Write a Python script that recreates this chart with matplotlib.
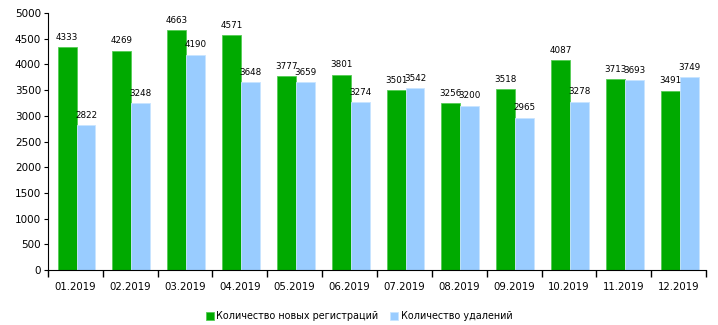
import matplotlib.pyplot as plt
import numpy as np

months = ['01.2019', '02.2019', '03.2019', '04.2019', '05.2019', '06.2019',
          '07.2019', '08.2019', '09.2019', '10.2019', '11.2019', '12.2019']
new_regs = [4333, 4269, 4663, 4571, 3777, 3801, 3501, 3256, 3518, 4087, 3713, 3491]
deletions = [2822, 3248, 4190, 3648, 3659, 3274, 3542, 3200, 2965, 3278, 3693, 3749]

green = '#00aa00'
blue = '#99ccff'

fig = plt.figure(figsize=(7.18, 3.25), dpi=100)
ax = fig.add_axes([48 / 718, 55 / 325, 658 / 718, 257 / 325])

x = np.arange(len(months))
w = 0.345
b1 = ax.bar(x - w / 2 + 0.02, new_regs, w, color=green, edgecolor='#55cc55', linewidth=0.6,
            label='Количество новых регистраций')
b2 = ax.bar(x + w / 2 + 0.02, deletions, w, color=blue, edgecolor='#c8e4ff', linewidth=0.6,
            label='Количество удалений')

for bars in (b1, b2):
    for r in bars:
        ax.text(r.get_x() + r.get_width() / 2, r.get_height() + 100, str(int(r.get_height())),
                ha='center', va='bottom', fontsize=6.3)

ax.set_xlim(-0.5, len(months) - 0.5)
ax.set_ylim(0, 5000)
ax.set_yticks(range(0, 5001, 500))
ax.set_xticks(np.arange(-0.5, len(months), 1.0))
ax.set_xticklabels([])
ax.set_xticks(x, minor=True)
ax.set_xticklabels(months, minor=True)
ax.tick_params(axis='x', which='minor', length=0, pad=9, labelsize=7.3)
ax.tick_params(axis='x', which='major', length=5, width=1)
ax.tick_params(axis='y', length=3, labelsize=7.5, pad=2)

for s in ('top', 'right'):
    ax.spines[s].set_visible(False)

fig.legend(loc='lower center', bbox_to_anchor=(0.5, -0.015), ncol=2, frameon=False,
           fontsize=6.9, handlelength=0.8, handleheight=0.8, handletextpad=0.3,
           columnspacing=1.2)

fig.savefig('out.png', dpi=100)
